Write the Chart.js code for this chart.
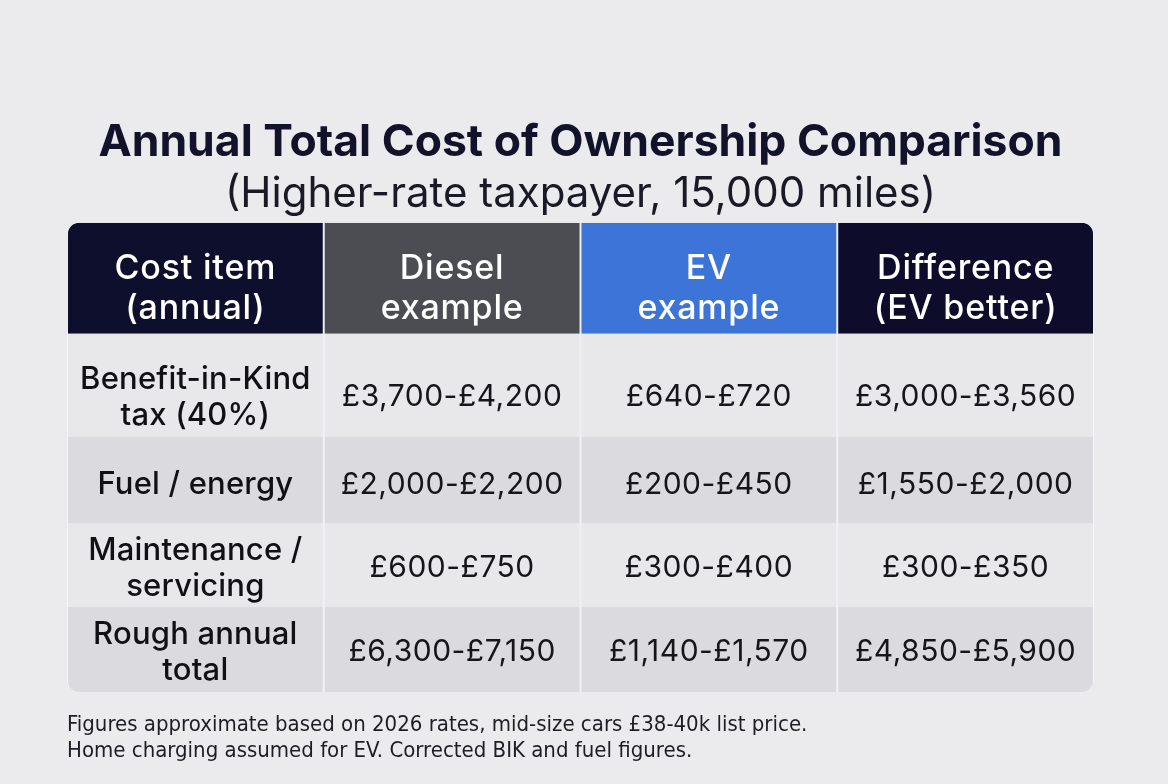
<!DOCTYPE html>
<html>
<head>
<meta charset="utf-8">
<script src="https://cdn.jsdelivr.net/npm/chart.js@4.4.1/dist/chart.umd.min.js"></script>
<style>
  html, body { margin: 0; padding: 0; background: #ebebed; }
  #wrap { position: relative; width: 1168px; height: 784px; overflow: hidden; }
  #c { position: absolute; left: 0; top: 0; }
  #note {
    position: absolute; left: 67px; top: 711px;
    font-family: "Liberation Sans Narrow", "DejaVu Sans Condensed", "Roboto", sans-serif;
    font-stretch: condensed;
    font-size: 22px; line-height: 26px; color: #1d1d25;
  }
</style>
</head>
<body>
<div id="wrap">
  <canvas id="c" width="1168" height="784"></canvas>
  <div id="note"></div>
</div>
<script>
// ---------- DATA ----------
const titleText = 'Annual Total Cost of Ownership Comparison';
const subtitleText = '(Higher-rate taxpayer, 15,000 miles)';
const columnHeaders = [['Cost item', '(annual)'], ['Diesel', 'example'], ['EV', 'example'], ['Difference', '(EV better)']];
const costItems = [['Benefit-in-Kind', 'tax (40%)'], ['Fuel / energy'], ['Maintenance /', 'servicing'], ['Rough annual', 'total']];
const dieselValues = ['£3,700-£4,200', '£2,000-£2,200', '£600-£750', '£6,300-£7,150'];
const evValues = ['£640-£720', '£200-£450', '£300-£400', '£1,140-£1,570'];
const differenceValues = ['£3,000-£3,560', '£1,550-£2,000', '£300-£350', '£4,850-£5,900'];
const footnotes = [
  'Figures approximate based on 2026 rates, mid-size cars £38-40k list price.',
  'Home charging assumed for EV. Corrected BIK and fuel figures.'
];

// ---------- LAYOUT / STYLE ----------
const ROW_EDGES = [0, 111, 214, 300, 384, 469];
const TEXT_NUDGE = [10, 12, 5, 3.5, 3];
const HEADER_COLORS = ['#0e0f2d', '#4c4d53', '#3c74d8', '#0d0d2b'];
const BODY_COLORS = ['#e8e8eb', '#dbdbdf', '#e8e8eb', '#dbdbdf'];
const RADIUS = 12;

document.getElementById('note').innerHTML = footnotes.join('<br>');

const valueColumns = [dieselValues, evValues, differenceValues];
function cellLines(r, c) {
  if (r === 0) return columnHeaders[c];
  if (c === 0) return costItems[r - 1];
  return [valueColumns[c - 1][r - 1]];
}

const nRows = costItems.length + 1;
const datasets = [];
for (let r = 0; r < nRows; r++) {
  datasets.push({
    label: r === 0 ? 'header' : costItems[r - 1].join(' '),
    data: columnHeaders.map(() => [ROW_EDGES[r], ROW_EDGES[r + 1]]),
    backgroundColor: columnHeaders.map((_, c) => r === 0 ? HEADER_COLORS[c] : BODY_COLORS[r - 1]),
    borderColor: r === 0 ? 'rgba(235,238,245,0.85)' : 'rgba(247,247,250,0.9)',
    borderWidth: { left: 1, right: 1, top: 0, bottom: 0 },
    borderSkipped: false,
    inflateAmount: 0,
    grouped: false,
    categoryPercentage: 1,
    barPercentage: 1,
    borderRadius: (ctx) => {
      const ri = ctx.datasetIndex, ci = ctx.dataIndex, last = columnHeaders.length - 1;
      return {
        topLeft: ri === 0 && ci === 0 ? RADIUS : 0,
        topRight: ri === 0 && ci === last ? RADIUS : 0,
        bottomLeft: ri === nRows - 1 && ci === 0 ? RADIUS : 0,
        bottomRight: ri === nRows - 1 && ci === last ? RADIUS : 0
      };
    }
  });
}

const cellTextPlugin = {
  id: 'cellText',
  afterDatasetsDraw(chart) {
    const ctx = chart.ctx;
    ctx.save();
    ctx.textAlign = 'center';
    ctx.textBaseline = 'middle';
    chart.data.datasets.forEach((ds, r) => {
      const meta = chart.getDatasetMeta(r);
      meta.data.forEach((el, c) => {
        const p = el.getProps(['x', 'y', 'base'], true);
        const cx = p.x;
        const cy = (p.y + p.base) / 2 + TEXT_NUDGE[r];
        const lines = cellLines(r, c);
        let lh;
        if (r === 0) {
          ctx.font = '500 34px Inter';
          ctx.letterSpacing = '0.8px';
          ctx.fillStyle = '#ffffff';
          lh = 40;
        } else if (c === 0) {
          ctx.font = '500 31px Inter';
          ctx.letterSpacing = '0.2px';
          ctx.fillStyle = '#101015';
          lh = 36;
        } else {
          ctx.font = '400 30px Inter';
          ctx.letterSpacing = '0.5px';
          ctx.fillStyle = '#15151a';
          lh = 36;
        }
        const y0 = cy - (lines.length - 1) * lh / 2;
        lines.forEach((t, i) => ctx.fillText(t, cx, y0 + i * lh));
      });
    });
    ctx.letterSpacing = '0px';
    ctx.restore();
  }
};

new Chart(document.getElementById('c'), {
  type: 'bar',
  data: {
    labels: columnHeaders.map(h => h.join(' ')),
    datasets
  },
  options: {
    responsive: false,
    animation: false,
    layout: { padding: { left: 67, right: 74, top: 0, bottom: 92 } },
    scales: {
      x: { display: false, offset: true },
      y: { display: false, type: 'linear', reverse: true, min: ROW_EDGES[0], max: ROW_EDGES[ROW_EDGES.length - 1] }
    },
    plugins: {
      legend: { display: false },
      tooltip: { enabled: false },
      title: {
        display: true,
        text: titleText,
        color: '#12132b',
        font: { family: 'Inter', size: 44.5, weight: '700', lineHeight: 1.2 },
        padding: { top: 116, bottom: 0 }
      },
      subtitle: {
        display: true,
        text: subtitleText,
        color: '#1a1a26',
        font: { family: 'Inter', size: 42, weight: '400', lineHeight: 1.2 },
        padding: { top: 0, bottom: 3 }
      }
    }
  },
  plugins: [cellTextPlugin]
});
</script>
</body>
</html>
